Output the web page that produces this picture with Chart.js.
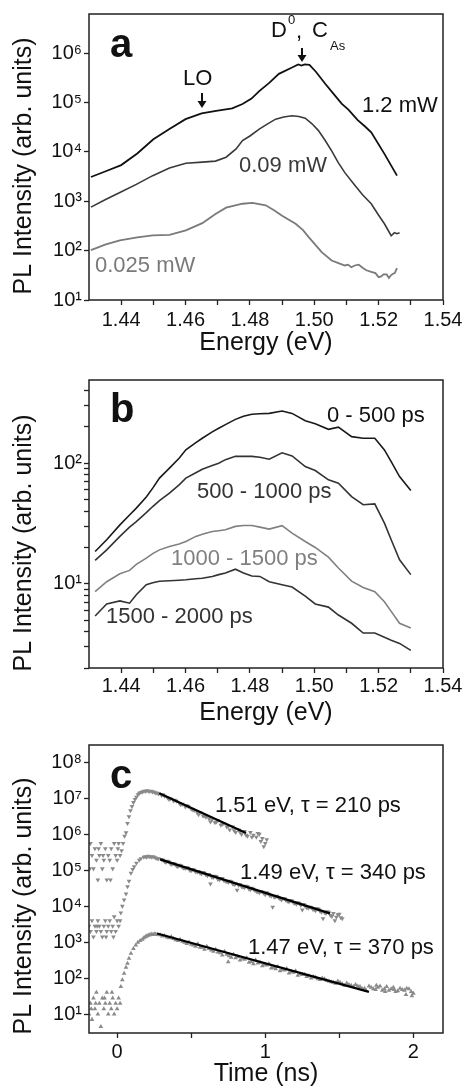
<!DOCTYPE html>
<html>
<head>
<meta charset="utf-8">
<script src="https://cdn.jsdelivr.net/npm/chart.js@4.4.0/dist/chart.umd.min.js"></script>
<style>
html, body { margin: 0; padding: 0; background: #fff; }
#wrap { position: relative; width: 467px; height: 1089px; }
canvas { position: absolute; left: 0; }
</style>
</head>
<body>
<div id="wrap">
<canvas id="chartA" width="467" height="362" style="top:0px"></canvas>
<canvas id="chartB" width="467" height="366" style="top:362px"></canvas>
<canvas id="chartC" width="467" height="361" style="top:728px"></canvas>
</div>
<script>
const FONT = '"Liberation Sans", Arial, Helvetica, sans-serif'

// ---- panel a: PL spectra for three excitation powers
const energy12 = [1.4306,1.435,1.440,1.445,1.450,1.455,1.460,1.465,1.4695,1.4745,1.4777,1.4805,1.4829,1.486,1.489,1.4931,1.4950,1.4960,1.4970,1.4985,1.5005,1.5034,1.506,1.5085,1.5106,1.5135,1.5157,1.5177,1.5218,1.5257]
const pl12 = [3.1e3,4.0e3,5.4e3,9.3e3,1.8e4,2.9e4,4.6e4,6.0e4,6.8e4,7.6e4,9.3e4,1.2e5,1.7e5,2.5e5,3.8e5,5.1e5,5.9e5,5.6e5,5.9e5,5.8e5,4.2e5,2.4e5,1.5e5,9.5e4,7.2e4,4.4e4,3.3e4,2.5e4,9.1e3,3.3e3]

const energy009 = [1.4306,1.435,1.4396,1.4447,1.4498,1.455,1.4601,1.4652,1.4693,1.4726,1.4757,1.4777,1.480,1.4829,1.4855,1.488,1.4905,1.4931,1.4952,1.4972,1.4993,1.5013,1.5034,1.5054,1.5075,1.5095,1.5126,1.5150,1.5177,1.5200,1.5218,1.5239,1.5249,1.5257,1.5265]
const pl009 = [7.6e2,1.07e3,1.5e3,2.2e3,3.3e3,4.7e3,5.9e3,6.2e3,6.5e3,7.8e3,1.15e4,1.7e4,2.1e4,2.9e4,3.7e4,4.6e4,5.1e4,5.4e4,5.2e4,4.8e4,3.7e4,2.7e4,1.7e4,1.05e4,6.0e3,3.8e3,2.1e3,1.35e3,8.9e2,5.2e2,3.5e2,2.0e2,2.3e2,2.2e2,2.3e2]

const energy0025 = [1.4306,1.435,1.4396,1.445,1.4498,1.455,1.4601,1.4652,1.4693,1.4726,1.4777,1.4808,1.4849,1.4875,1.490,1.4942,1.4965,1.4982,1.5003,1.5023,1.5054,1.5075,1.5095,1.5105,1.5115,1.5126,1.5138,1.5150,1.5162,1.5177,1.5190,1.5200,1.5208,1.5215,1.5225,1.5232,1.5239,1.5245,1.5250,1.5257]
const pl0025 = [102,132,162,186,204,209,257,360,550,740,890,930,830,660,510,350,260,190,132,93,63,56,50,52,46,50,52,45,40,37,35,29,30,33,33,28,32,34,35,44]

// ---- panel b: time-gated spectra
const energyB = [1.4319,1.4355,1.4396,1.4426,1.4447,1.4478,1.4498,1.4519,1.455,1.458,1.4601,1.4632,1.4652,1.4683,1.4703,1.4724,1.4755,1.478,1.4806,1.4831,1.486,1.49,1.4931,1.4972,1.5003,1.5044,1.5075,1.5116,1.5152,1.5188,1.5218,1.5239,1.5265,1.530]
const gate0to500 = [18.5,23.2,30.8,37.2,42.4,52.5,62.1,75.2,91.0,110,129,148,161,182,195,209,231,245,255,257,259,271,259,225,212,191,199,166,161,161,129,103,77.4,59.3]
const gate500to1000 = [15.6,19.1,24.7,29.5,32.8,38.9,43.7,49.0,56.4,66.1,75.2,83.2,89.1,95.5,100,107,114,114,114,112,108,122,115,93.8,86.9,72.8,68.2,52.8,45.2,46.0,31.8,23.2,15.8,11.9]
const gate1000to1500 = [8.6,10.4,12.1,12.9,14.5,16.3,17.8,19.1,20.4,21.4,22.4,24.7,25.7,27.1,27.5,28.0,29.9,30.4,30.4,29.5,28.4,30.3,26.3,22.4,20.0,16.6,13.5,10.5,9.3,8.6,7.1,5.9,4.7,4.3]
const gate1500to2000 = [5.4,6.8,7.2,6.9,8.1,9.8,10.2,10.5,10.6,10.7,10.8,11.0,11.1,11.5,11.9,12.3,13.2,12.3,11.6,11.5,10.4,9.8,9.4,7.9,6.8,6.4,5.5,4.7,3.9,3.9,3.6,3.4,3.2,2.8]

// ---- panel c: decay traces (ns) and exponential fits
const time151 = [-0.185,-0.18,-0.17,-0.16,-0.15,-0.14,-0.13,-0.125,-0.12,-0.11,-0.10,-0.095,-0.09,-0.08,-0.07,-0.06,-0.05,-0.045,-0.04,-0.03,-0.02,-0.01,0.0,0.005,0.01,0.02,
  0.03,0.04,0.05,0.06,0.07,0.08,0.09,0.10,0.11,0.12,0.13,0.14,0.15,0.16,0.17,0.18,0.19,0.20,0.21,0.22,0.23,0.24,0.25,0.26,0.27,0.28,
  0.30,0.31,0.32,0.34,0.35,0.36,0.38,0.39,0.40,0.42,0.43,0.44,0.46,0.47,0.48,0.50,0.51,0.52,0.54,0.55,0.56,0.58,0.59,0.60,0.62,0.63,0.64,0.66,0.67,0.68,0.70,0.71,0.72,0.74,0.75,0.76,0.78,0.79,0.80,0.82,0.83,0.84,0.86,0.87,0.88,0.90,0.91,0.92,0.94,0.95,0.96,0.97,0.98,0.99,1.00,1.01]
const pl151 = [1.1e5,5.6e5,2.6e5,1.1e5,4.0e5,1.9e5,5.4e4,4.0e5,2.6e5,5.6e5,1.1e5,2.6e5,1.9e5,4.0e5,5.4e4,2.6e5,1.9e5,5.4e4,4.0e5,1.1e5,5.6e5,2.6e5,1.9e5,4.0e5,5.6e5,2.6e5,
  3.5e5,5.6e5,8.9e5,1.1e6,2.0e6,3.1e6,4.5e6,5.9e6,7.6e6,9.3e6,1.07e7,1.26e7,1.38e7,1.45e7,1.51e7,1.58e7,1.55e7,1.62e7,1.58e7,1.55e7,1.58e7,1.51e7,1.48e7,1.41e7,1.38e7,1.32e7,
  1.2e7,1.26e7,1.15e7,1.02e7,9.3e6,9.8e6,8.5e6,8.9e6,8.3e6,7.2e6,6.6e6,6.9e6,5.8e6,6.2e6,5.9e6,5.0e6,4.8e6,4.6e6,4.0e6,3.5e6,4.0e6,3.2e6,3.3e6,3.0e6,2.7e6,2.2e6,2.5e6,2.1e6,2.2e6,2.4e6,1.8e6,1.9e6,2.0e6,1.6e6,1.66e6,1.32e6,1.6e6,1.26e6,1.12e6,1.32e6,1.15e6,1.0e6,1.2e6,9.5e5,8.9e5,1.12e6,8.3e5,9.5e5,8.3e5,1.05e6,1.0e6,6.3e5,7.6e5,4.5e5,5.6e5,7.1e5]

const time149 = [-0.19,-0.18,-0.17,-0.16,-0.15,-0.14,-0.135,-0.13,-0.12,-0.11,-0.10,-0.09,-0.08,-0.075,-0.07,-0.06,-0.05,-0.04,-0.03,-0.025,-0.02,-0.01,0.0,0.01,0.02,
  0.025,0.035,0.047,0.06,0.07,0.08,0.093,0.105,0.115,0.13,0.149,0.16,0.18,0.19,0.20,0.21,0.22,0.23,0.24,0.25,0.26,0.27,0.28,
  0.30,0.32,0.34,0.36,0.38,0.40,0.42,0.44,0.46,0.48,0.50,0.52,0.54,0.56,0.58,0.60,0.62,0.63,0.64,0.66,0.68,0.70,0.72,0.74,0.76,0.78,0.80,0.81,0.82,0.84,0.86,0.88,0.90,0.92,0.94,0.96,0.98,1.00,1.02,1.04,1.05,1.06,1.08,1.10,1.12,1.14,1.16,1.18,1.20,1.22,1.24,1.25,1.26,1.28,1.30,1.32,1.34,1.36,1.38,1.39,1.40,1.42,1.44,1.46,1.47,1.48,1.50,1.52,
  0.31,0.33,0.35,0.37,0.39,0.41,0.43,0.45,0.47,0.49,0.51,0.53,0.55,0.57,0.59,0.61,0.65,0.67,0.69,0.71,0.73,0.75,0.77,0.79,0.83,0.85,0.87,0.89,0.91,0.93,0.95,0.97,0.99,1.01,1.03,1.07,1.09,1.11,1.13,1.15,1.17,1.19,1.21,1.23,1.27,1.29,1.31,1.33,1.35,1.37,1.41,1.43,1.45,1.49,1.51]
const pl149 = [2.8e3,2.0e3,4.0e3,1.4e3,2.8e3,2.0e3,2.8e3,4.0e3,2.8e3,2.0e3,1.4e3,2.8e3,4.0e3,1.4e3,2.0e3,2.8e3,4.0e3,2.0e3,2.8e3,1.4e3,5.1e3,2.0e3,4.0e3,2.8e3,4.0e3,
  6.5e3,1.0e4,1.5e4,2.2e4,3.5e4,5.0e4,8.3e4,1.05e5,1.26e5,1.58e5,1.9e5,2.1e5,2.3e5,2.4e5,2.3e5,2.45e5,2.4e5,2.3e5,2.4e5,2.3e5,2.2e5,2.1e5,2.1e5,
  2.0e5,1.74e5,1.78e5,1.51e5,1.55e5,1.32e5,1.38e5,1.2e5,1.12e5,1.15e5,9.8e4,1.0e5,8.9e4,8.3e4,8.7e4,7.4e4,7.6e4,4.2e4,6.3e4,6.9e4,5.6e4,5.8e4,5.2e4,4.8e4,5.0e4,4.2e4,4.2e4,2.8e4,3.8e4,3.5e4,3.3e4,3.5e4,2.9e4,3.0e4,2.6e4,2.4e4,2.5e4,2.1e4,2.2e4,1.9e4,9.5e3,1.8e4,1.9e4,1.6e4,1.66e4,1.45e4,1.32e4,1.41e4,1.2e4,1.26e4,1.05e4,7.9e3,1.12e4,9.1e3,9.5e3,8.3e3,7.6e3,8.3e3,6.9e3,4.5e3,6.6e3,7.1e3,5.6e3,6.3e3,4.0e3,5.0e3,6.0e3,4.5e3,
  1.9e5,1.66e5,1.7e5,1.45e5,1.48e5,1.26e5,1.35e5,1.15e5,1.17e5,1.0e5,1.05e5,9.1e4,9.3e4,7.9e4,8.3e4,7.1e4,6.3e4,6.6e4,5.5e4,5.9e4,5.0e4,4.6e4,4.8e4,4.0e4,4.0e4,3.4e4,3.6e4,3.0e4,3.2e4,2.75e4,2.5e4,2.6e4,2.3e4,2.4e4,2.0e4,1.82e4,1.74e4,1.51e4,1.62e4,1.38e4,1.45e4,1.26e4,1.15e4,1.2e4,1.0e4,8.9e3,9.3e3,7.9e3,8.5e3,7.2e3,6.3e3,6.6e3,5.2e3,5.8e3,4.8e3]

const time147 = [-0.19,-0.18,-0.175,-0.17,-0.16,-0.15,-0.145,-0.14,-0.13,-0.12,-0.11,-0.10,-0.09,-0.085,-0.08,-0.07,-0.06,-0.05,-0.04,-0.035,-0.03,-0.02,-0.01,0.0,0.01,0.02,
  0.025,0.035,0.047,0.06,0.07,0.08,0.093,0.11,0.126,0.14,0.155,0.17,0.18,0.19,0.20,0.21,0.22,0.23,0.24,0.25,0.26,0.27,
  0.29,0.32,0.35,0.38,0.41,0.44,0.47,0.50,0.53,0.56,0.59,0.62,0.65,0.68,0.71,0.74,0.75,0.77,0.80,0.83,0.86,0.89,0.92,0.95,0.98,1.01,1.04,1.07,1.10,1.13,1.16,1.19,1.22,1.25,1.28,1.31,1.34,1.37,1.40,1.43,1.46,1.49,1.52,1.55,1.58,1.61,1.64,1.67,1.68,1.70,1.73,1.75,1.76,1.79,1.81,1.82,1.85,1.87,1.88,1.91,1.94,1.95,1.97,1.99,2.00,
  0.305,0.335,0.365,0.395,0.425,0.455,0.485,0.515,0.545,0.575,0.605,0.635,0.665,0.695,0.725,0.755,0.785,0.815,0.845,0.875,0.905,0.935,0.965,0.995,1.025,1.055,1.085,1.115,1.145,1.175,1.205,1.235,1.265,1.295,1.325,1.355,1.385,1.415,1.445,1.475,1.505,1.535,1.565,1.595,1.625,1.655,1.715,1.745,1.775,1.805,1.835,1.865,1.895,1.925,1.955,1.985]
const pl147 = [10,20,14,7.1,28,14,20,40,10,20,4.5,28,14,28,20,40,10,20,14,40,28,10,20,14,28,20,
  58,89,135,200,257,355,490,660,830,980,1100,1200,1320,1410,1480,1550,1580,1660,1620,1700,1660,1620,
  1580,1510,1320,1260,1100,1050,910,870,760,720,630,660,550,525,437,457,282,380,363,316,331,275,251,263,219,229,191,182,158,166,138,145,120,126,110,100,105,91,95,83,76,83,69,72,63,66,58,52,46,60,50,63,55,46,42,58,50,48,42,52,46,35,50,32,38,
  1480,1380,1410,1150,1200,980,1000,830,890,720,760,600,630,500,550,417,457,398,355,363,288,316,275,240,251,200,209,174,182,151,158,132,126,115,110,95,100,87,79,72,76,63,66,58,60,50,55,48,60,50,46,55,44,48,52,42]

const fitTime151 = [0.284, 0.87], fit151 = [1.38e7, 1.07e6]
const fitTime149 = [0.29, 1.437], fit149 = [2.0e5, 6.3e3]
const fitTime147 = [0.27, 1.70], fit147 = [1.74e3, 41.7]

// tick positions
const energyTicks = [1.44,1.45,1.46,1.47,1.48,1.49,1.50,1.51,1.52,1.53,1.54]
const timeTicks = [0, 0.5, 1, 1.5, 2]
const decadesA = [1e1,1e2,1e3,1e4,1e5,1e6]
const ticksB = [2,3,4,5,6,7,8,9,10,20,30,40,50,60,70,80,90,100,200,300,400]
const decadesC = [1e1,1e2,1e3,1e4,1e5,1e6,1e7,1e8]

const sup = {"0":"⁰","1":"¹","2":"²","3":"³","4":"⁴","5":"⁵","6":"⁶","7":"⁷","8":"⁸","9":"⁹"}
function powLabel(v){
    const e = Math.round(Math.log10(v))
    return "10" + String(e).split("").map(c=>sup[c]).join("")
}

function xy(xs, ys){
    return xs.map((x, i)=>({x: x, y: ys[i]}))
}

function arrow(ctx, x, y1, y2){
    ctx.beginPath()
    ctx.moveTo(x, y1)
    ctx.lineTo(x, y2 - 5)
    ctx.lineWidth = 2
    ctx.stroke()
    ctx.beginPath()
    ctx.moveTo(x - 4.5, y2 - 7)
    ctx.lineTo(x + 4.5, y2 - 7)
    ctx.lineTo(x, y2)
    ctx.closePath()
    ctx.fill()
}

// frame, y title, panel letters and annotations
const decor = {
    id: "decor",
    afterDraw(chart, args, opts){
        const ctx = chart.ctx, a = chart.chartArea
        ctx.save()
        ctx.strokeStyle = "#222"
        ctx.lineWidth = 1.5
        ctx.strokeRect(a.left, a.top, a.right - a.left, a.bottom - a.top)
        ctx.translate(opts.ytitle[0], opts.ytitle[1])
        ctx.rotate(-Math.PI / 2)
        ctx.font = "25px " + FONT
        ctx.fillStyle = "#111"
        ctx.textAlign = "center"
        ctx.textBaseline = "middle"
        ctx.fillText("PL Intensity (arb. units)", 0, 0)
        ctx.restore()

        ctx.save()
        ctx.textAlign = "left"
        ctx.textBaseline = "alphabetic"
        const texts = opts.texts || []
        texts.forEach(t=>{
            ctx.font = t.font || ("22px " + FONT)
            ctx.fillStyle = t.color || "#111"
            ctx.fillText(t.text, t.x, t.y)
        })
        const arrows = opts.arrows || []
        ctx.fillStyle = "#111"
        ctx.strokeStyle = "#111"
        arrows.forEach(r=>arrow(ctx, r[0], r[1], r[2]))
        ctx.restore()
    }
}

function axisX(min, max, ticks, label, title, xh, pad, tpad){
    return {
        type: "linear", min: min, max: max,
        afterFit: s=>{ s.height = xh },
        afterBuildTicks: s=>{ s.ticks = ticks.map(v=>({value: v})) },
        ticks: {autoSkip: false, maxRotation: 0, padding: pad, color: "#111", font: {family: FONT, size: 20}, callback: label},
        grid: {drawOnChartArea: false, tickLength: 5, tickColor: "#222", tickWidth: 1.3},
        border: {display: false},
        title: {display: true, text: title, color: "#111", font: {family: FONT, size: 25}, padding: {top: 0, bottom: tpad}}
    }
}

function axisY(min, max, ticks, label){
    return {
        type: "logarithmic", min: min, max: max,
        afterFit: s=>{ s.width = 89 },
        afterBuildTicks: s=>{ s.ticks = ticks.map(v=>({value: v})) },
        ticks: {autoSkip: false, padding: 2, color: "#111", font: {family: FONT, size: 20}, callback: label},
        grid: {drawOnChartArea: false, tickLength: 5, tickColor: "#222", tickWidth: 1.3},
        border: {display: false}
    }
}

function makeChart(id, top, datasets, x, y, decorOpts){
    return new Chart(document.getElementById(id), {
        type: "line",
        data: {datasets: datasets},
        options: {
            responsive: false,
            animation: false,
            devicePixelRatio: 1,
            layout: {padding: {top: top, right: 24, left: 0, bottom: 0}},
            plugins: {legend: {display: false}, tooltip: {enabled: false}, decor: decorOpts},
            scales: {x: x, y: y}
        },
        plugins: [decor]
    })
}

function lineSet(xs, ys, color, width){
    return {data: xy(xs, ys), borderColor: color, borderWidth: width, pointRadius: 0, tension: 0, fill: false}
}

function dotSet(xs, ys, rotation){
    return {data: xy(xs, ys), showLine: false, pointStyle: "triangle", pointRadius: 2.7, pointRotation: rotation,
        pointBackgroundColor: "#8a8a8a", pointBorderWidth: 0, borderColor: "#8a8a8a"}
}

const energyLabel = v=>Math.round(v * 100) % 2 === 0 ? v.toFixed(2) : ""

makeChart("chartA", 13, [
    lineSet(energy12, pl12, "#111", 1.8),
    lineSet(energy009, pl009, "#3a3a3a", 1.6),
    lineSet(energy0025, pl0025, "#7a7a7a", 1.8)
], axisX(1.43, 1.54, energyTicks, energyLabel, "Energy (eV)", 62, 3, 4),
   axisY(10, 6.2e6, decadesA, v=>powLabel(v)), {
    ytitle: [24, 166],
    texts: [
        {text: "a", x: 110, y: 57, font: "bold 40px " + FONT},
        {text: "LO", x: 183, y: 85},
        {text: "D", x: 271, y: 37},
        {text: "0", x: 288, y: 24, font: "13px " + FONT},
        {text: ",", x: 296, y: 38},
        {text: "C", x: 312, y: 37},
        {text: "As", x: 330, y: 50, font: "13px " + FONT},
        {text: "1.2 mW", x: 362, y: 112},
        {text: "0.09 mW", x: 239, y: 172, color: "#3a3a3a"},
        {text: "0.025 mW", x: 95, y: 272, color: "#7a7a7a"}
    ],
    arrows: [[202, 93, 108], [302, 48, 62]]
})

makeChart("chartB", 18, [
    lineSet(energyB, gate0to500, "#1a1a1a", 1.6),
    lineSet(energyB, gate500to1000, "#333", 1.6),
    lineSet(energyB, gate1000to1500, "#808080", 1.6),
    lineSet(energyB, gate1500to2000, "#333", 1.6)
], axisX(1.43, 1.54, energyTicks, energyLabel, "Energy (eV)", 60, 1, 0),
   axisY(2.0, 490, ticksB, v=>(v === 10 || v === 100) ? powLabel(v) : ""), {
    ytitle: [24, 181],
    texts: [
        {text: "b", x: 110, y: 60, font: "bold 40px " + FONT},
        {text: "0 - 500 ps", x: 327, y: 60},
        {text: "500 - 1000 ps", x: 197, y: 136, color: "#333"},
        {text: "1000 - 1500 ps", x: 171, y: 203, color: "#808080"},
        {text: "1500 - 2000 ps", x: 106, y: 261, color: "#333"}
    ]
})

makeChart("chartC", 17, [
    lineSet(fitTime151, fit151, "#000", 2.2),
    lineSet(fitTime149, fit149, "#000", 2.2),
    lineSet(fitTime147, fit147, "#000", 2.2),
    dotSet(time151, pl151, 180),
    dotSet(time149, pl149, 180),
    dotSet(time147, pl147, 0)
], axisX(-0.19, 2.2, timeTicks, v=>Number.isInteger(v) ? String(v) : "", "Time (ns)", 56, 2, 0),
   axisY(3, 3e8, decadesC, v=>powLabel(v)), {
    ytitle: [24, 178],
    texts: [
        {text: "c", x: 110, y: 60, font: "bold 40px " + FONT},
        {text: "1.51 eV, τ = 210 ps", x: 215, y: 84},
        {text: "1.49 eV, τ = 340 ps", x: 240, y: 151},
        {text: "1.47 eV, τ = 370 ps", x: 248, y: 226}
    ]
})
</script>
</body>
</html>
